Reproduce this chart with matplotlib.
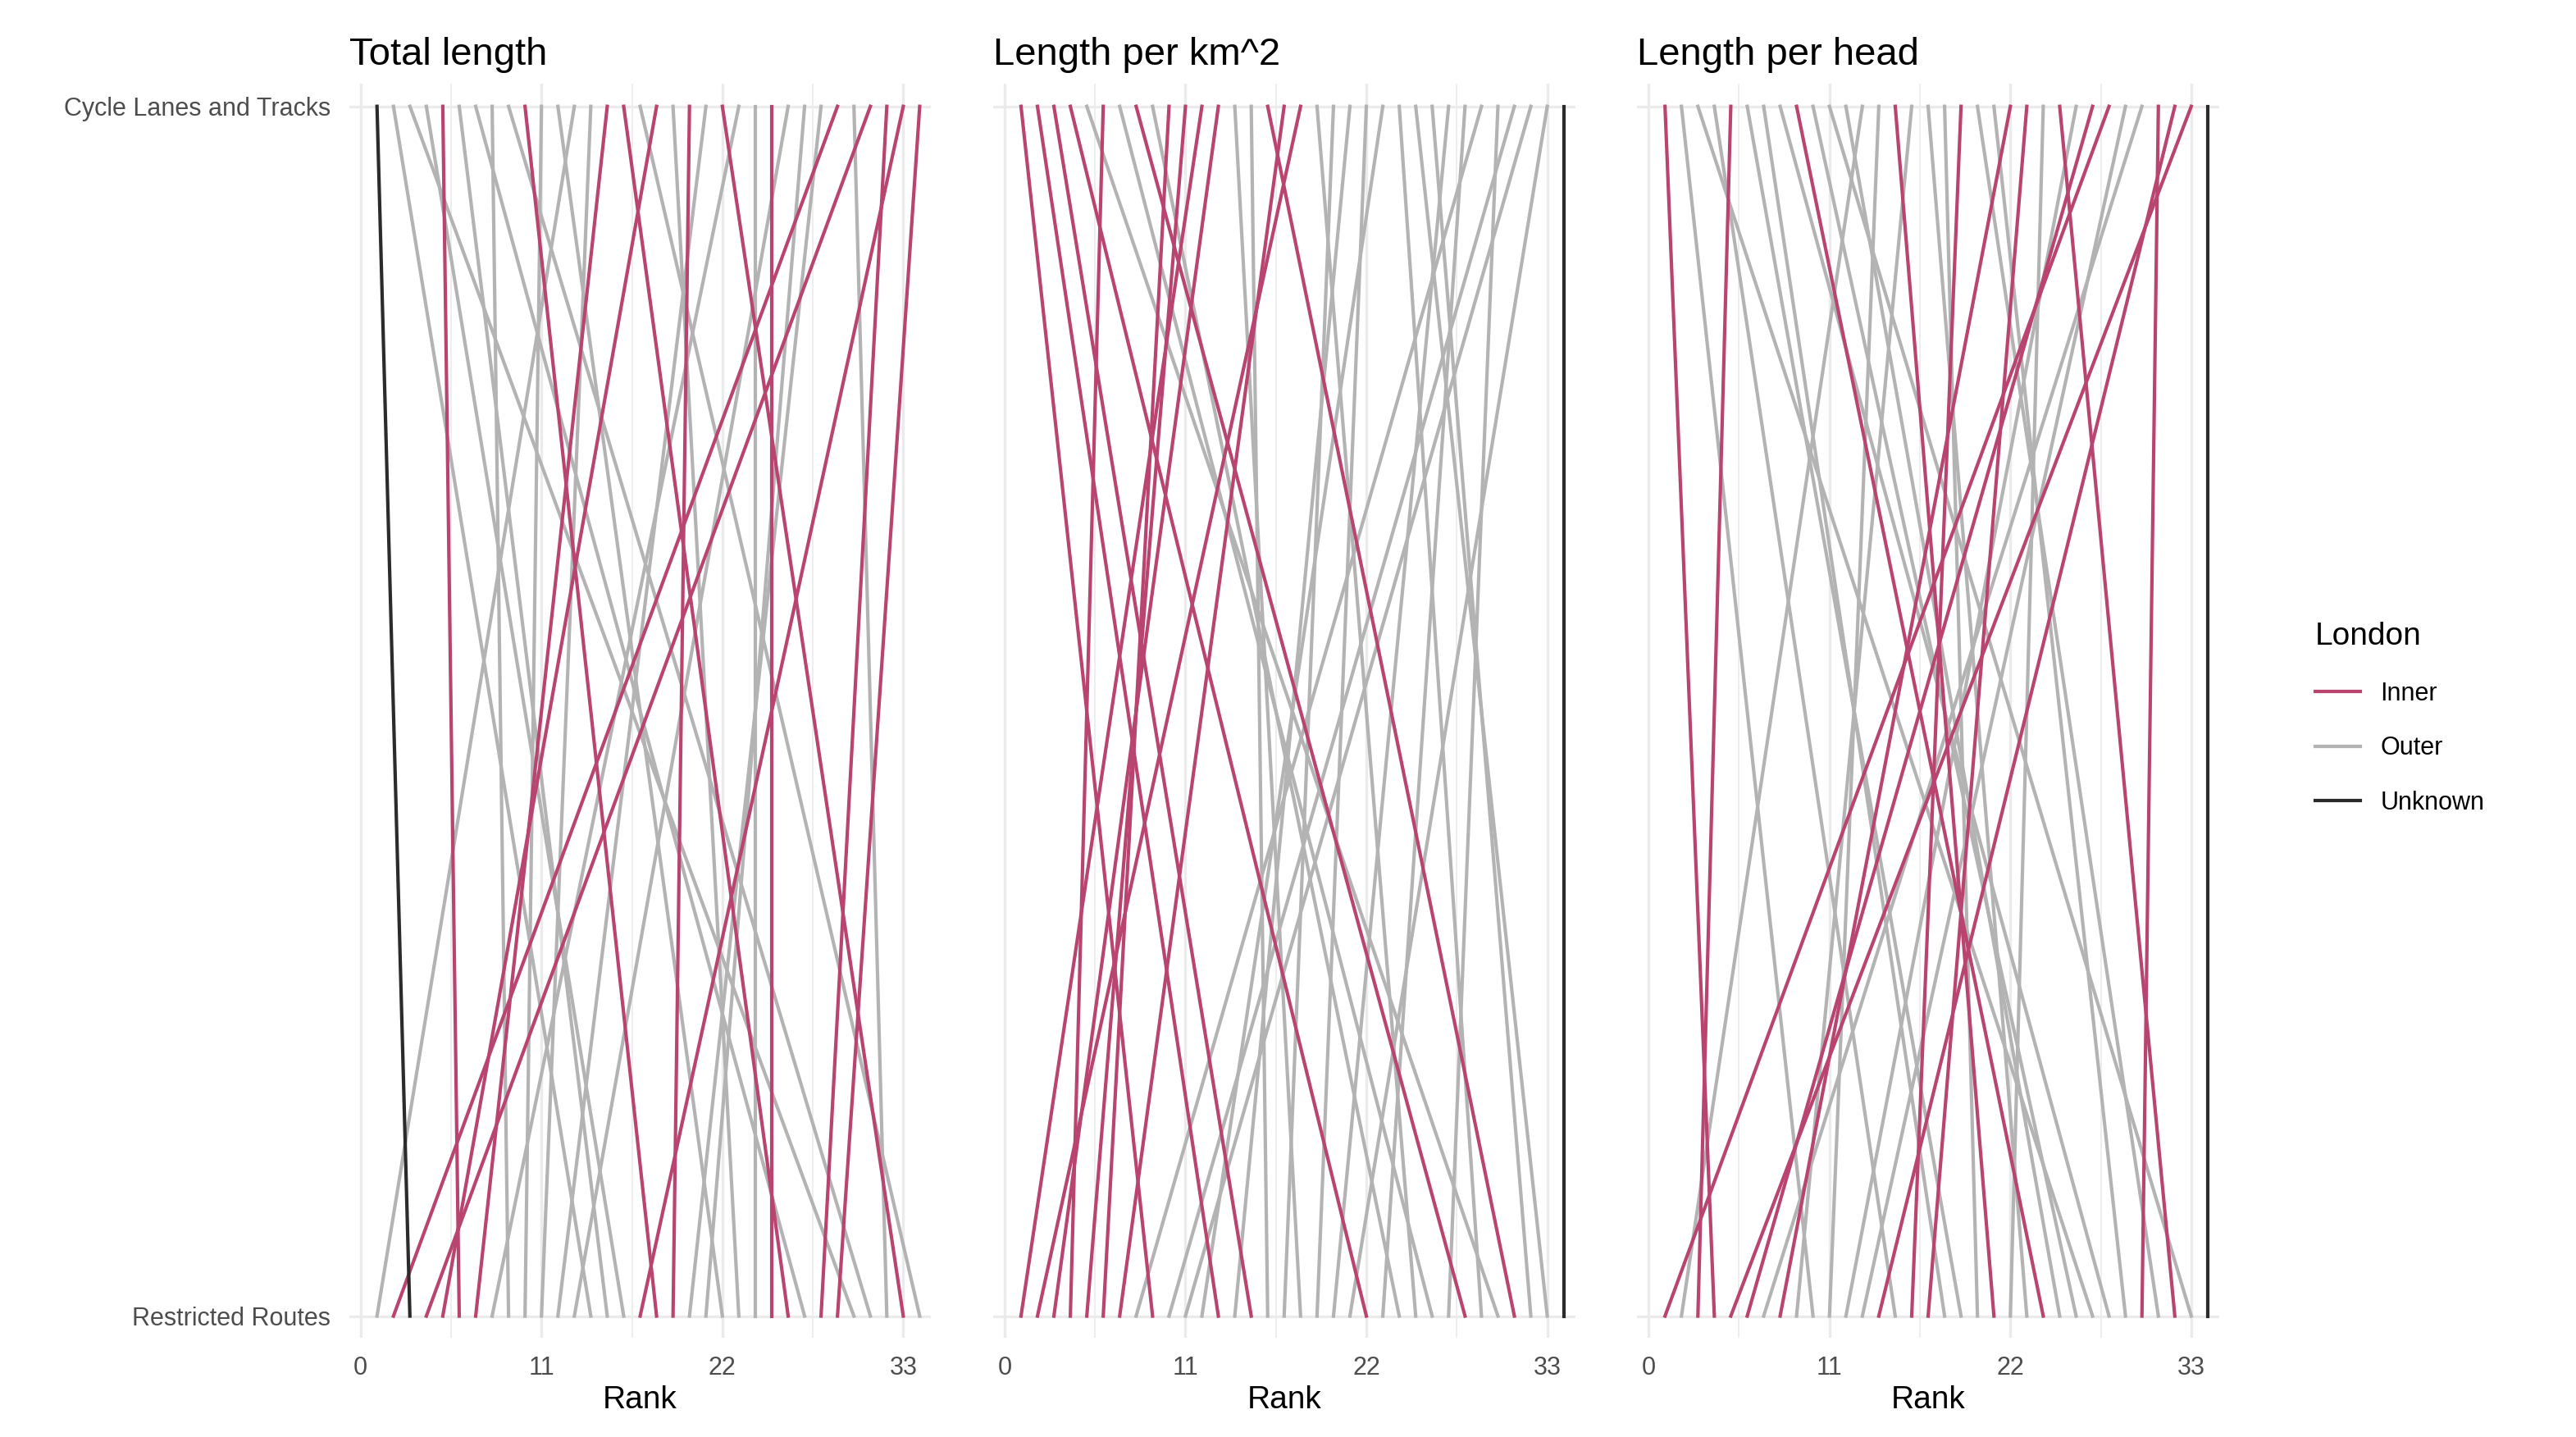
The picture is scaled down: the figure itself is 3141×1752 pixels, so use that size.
import matplotlib.pyplot as plt
import numpy as np
from matplotlib.lines import Line2D

plt.rcParams['font.family'] = ['Liberation Sans', 'DejaVu Sans']

# Ranks 1..34 on "Cycle Lanes and Tracks"; estimated rank on "Restricted Routes"
ranks = np.arange(1, 35)

groups_total = list("kgggrggggrggggrrgrgrgrggrgggrgrrrr")
est_total = [2.7, 14.4, 30.5, 17, 7, 15.7, 29, 10, 31.5, 20, 10, 24, 2.3, 12, 7,
             28, 33.8, 4, 24, 20.2, 12.2, 33.5, 8, 24.2, 27.5, 12.5, 22, 21.5,
             2.5, 33, 3.5, 29, 18, 29.3]

groups_area = list("rrrrgrgrgrrrrggrrrgggggggggggggggk")
est_area = [9.5, 14, 14.5, 21.5, 30, 4, 25.5, 28, 24, 6.5, 6, 1, 3, 19, 16.5,
            31, 8.5, 2.5, 24.2, 17.5, 14.2, 19.5, 13, 29, 31.5, 31.2, 21, 22,
            9, 26.5, 9.6, 10.5, 21.2, 34]

groups_head = list("rgggrgggrgggggrgggrggrrgrgrrggrrrk")
est_head = [5.5, 11.5, 28, 16.5, 5, 19, 18.5, 28.2, 23.5, 25, 32, 24.5, 4, 12,
            21.5, 11, 23.2, 20, 16.7, 30, 28.4, 9.5, 18, 23, 31.5, 12.2, 6, 3,
            14.5, 9, 28.6, 16, 5.6, 34]

titles = ["Total length", "Length per km^2", "Length per head"]
colors = {"r": "#B8446F", "g": "#B3B3B3", "k": "#2B2B2B"}


def to_ranks(est):
    order = np.argsort(est, kind="stable")
    out = np.empty(len(est), dtype=int)
    out[order] = np.arange(1, len(est) + 1)
    return out


fig = plt.figure(figsize=(15.705, 8.76), dpi=200)
lefts = [0.1355, 0.3855, 0.6355]
panels = [(groups_total, est_total), (groups_area, est_area), (groups_head, est_head)]

for i, (groups, est) in enumerate(panels):
    ax = fig.add_axes([lefts[i], 0.069, 0.226, 0.873])
    bottom = to_ranks(est)
    for g in ["g", "r", "k"]:
        for top_r, bot_r, gg in zip(ranks, bottom, groups):
            if gg == g:
                ax.plot([bot_r, top_r], [0, 1], color=colors[g], lw=1.5)
    ax.set_xlim(-0.7, 34.7)
    ax.set_ylim(-0.018, 1.019)
    ax.set_xticks([0, 11, 22, 33])
    ax.set_xticks([5.5, 16.5, 27.5], minor=True)
    ax.set_yticks([0, 1])
    if i == 0:
        ax.set_yticklabels(["Restricted Routes", "Cycle Lanes and Tracks"])
    else:
        ax.set_yticklabels([])
    ax.tick_params(length=0, labelsize=11, colors="#4D4D4D", which="both", pad=8)
    ax.grid(True, which="major", color="#EBEBEB", lw=1.2)
    ax.grid(True, which="minor", axis="x", color="#EBEBEB", lw=0.6)
    ax.set_axisbelow(True)
    for s in ax.spines.values():
        s.set_visible(False)
    ax.set_xlabel("Rank", fontsize=14, labelpad=2)
    ax.set_title(titles[i], loc="left", fontsize=17, pad=8)

handles = [Line2D([], [], color=colors[c], lw=1.5) for c in "rgk"]
fig.legend(handles, ["Inner", "Outer", "Unknown"], title="London",
           loc="center left", bbox_to_anchor=(0.89, 0.5), frameon=False,
           fontsize=11, title_fontsize=14, handlelength=1.8, labelspacing=1.2,
           alignment="left")

fig.savefig("out.png", dpi=200)
